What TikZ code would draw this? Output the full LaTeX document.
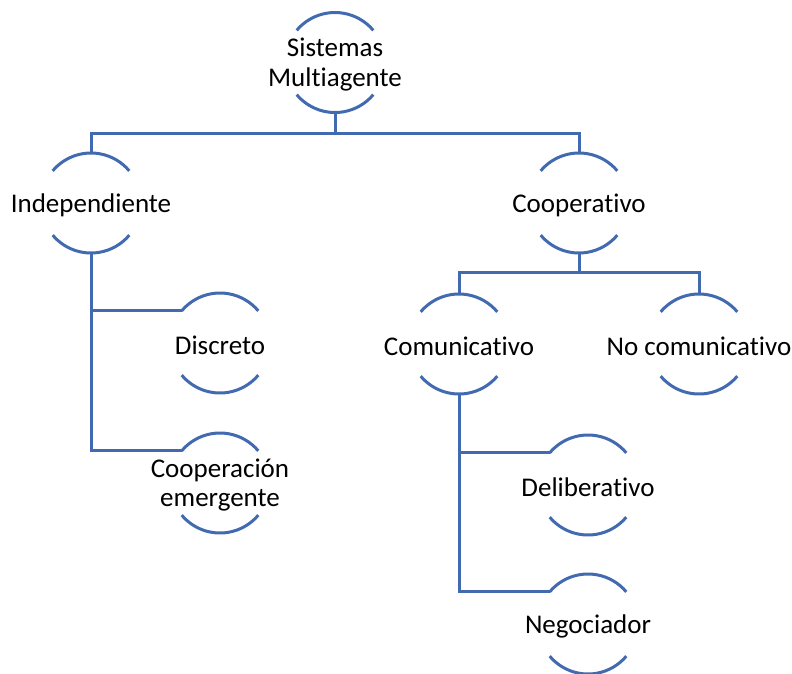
\documentclass[tikz,border=0pt]{standalone}
\usepackage{fontspec}
\setmainfont{Carlito}[Ligatures=NoCommon]
\definecolor{arcblue}{RGB}{66,106,176}
\begin{document}
\begin{tikzpicture}[x=1pt,y=1pt,
  unit/.style={circle,minimum size=100pt,inner sep=0pt,outer sep=0pt,
    label={[align=center,font=\fontsize{27}{29.5}\selectfont,text=black,yshift=-2pt]center:#1}},
  arcline/.style={draw=arcblue,line width=3pt},
  link/.style={draw=arcblue,line width=3pt}]
\useasboundingbox (0,0) rectangle (792,-673);

% units of the hierarchy
\node[unit={Sistemas\\Multiagente}] (root)  at (335,-62.5) {};
\node[unit=Independiente]           (ind)   at (91,-203) {};
\node[unit=Cooperativo]             (coop)  at (579,-203) {};
\node[unit=Discreto]                (disc)  at (220,-343) {};
\node[unit={Cooperación\\emergente}] (cem)  at (220,-483) {};
\node[unit=Comunicativo]            (com)   at (459,-344) {};
\node[unit=No comunicativo]         (nocom) at (699,-344) {};
\node[unit=Deliberativo]            (delib) at (588,-485) {};
\node[unit=Negociador]              (neg)   at (588,-624) {};

% upper and lower arc of every unit
\foreach \n in {root,ind,coop,disc,cem,com,nocom,delib,neg}{
  \draw[arcline] (\n.140) arc[start angle=140,end angle=40,radius=50];
  \draw[arcline] (\n.220) arc[start angle=220,end angle=320,radius=50];
}

% organisation-chart links
\draw[link] (root.south) -- ++(0,-20.5) -| (ind.north);
\draw[link] (root.south) -- ++(0,-20.5) -| (coop.north);
\draw[link] (coop.south) -- ++(0,-19) -| (com.north);
\draw[link] (coop.south) -- ++(0,-19) -| (nocom.north);

% hanging children
\draw[link] (ind.south) |- (disc.140);
\draw[link] (ind.south) |- (cem.140);
\draw[link] (com.south) |- (delib.140);
\draw[link] (com.south) |- (neg.140);
\end{tikzpicture}
\end{document}
